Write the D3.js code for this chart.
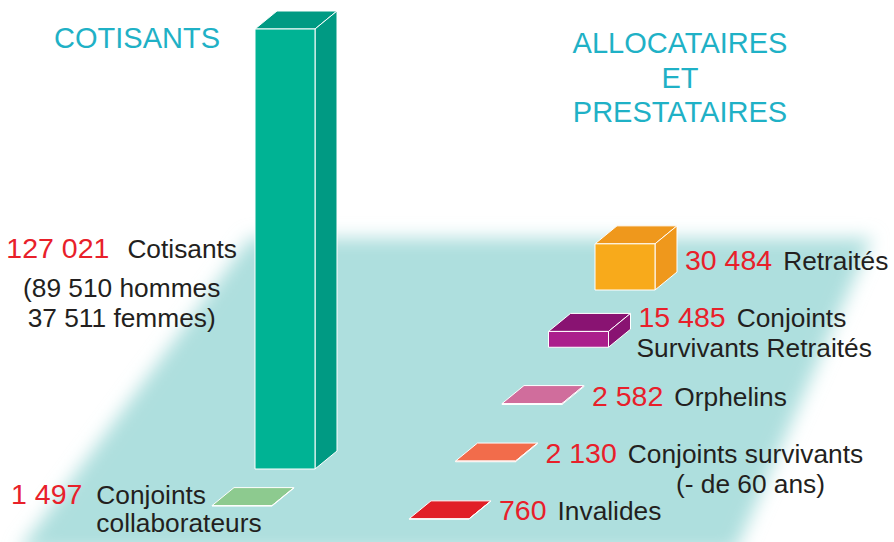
<!DOCTYPE html>
<html>
<head>
<meta charset="utf-8">
<script src="https://cdn.jsdelivr.net/npm/d3@7"></script>
<style>
  body { margin: 0; background: #fff; }
  svg { display: block; font-family: 'Liberation Sans', Arial, sans-serif; }
</style>
</head>
<body>
<script>
// cotisants side
const leftCategories = ['Cotisants', 'Conjoints collaborateurs'];
const leftValues = [127021, 1497];
const leftLabels = [['Cotisants'], ['Conjoints', 'collaborateurs']];
const cotisantsSplit = [89510, 37511]; // hommes, femmes

// allocataires et prestataires side
const rightCategories = ['Retraités', 'Conjoints Survivants Retraités', 'Orphelins', 'Conjoints survivants', 'Invalides'];
const rightValues = [30484, 15485, 2582, 2130, 760];
const rightLabels = [
  ['Retraités'],
  ['Conjoints', 'Survivants Retraités'],
  ['Orphelins'],
  ['Conjoints survivants', '(- de 60 ans)'],
  ['Invalides'],
];

const leftColors = [['#00b394', '#009a83'], ['#8dca8f', '#7bbb7e']];
const rightColors = [
  ['#f8aa1b', '#ef981c'],
  ['#ab1f8c', '#891372'],
  ['#d06d9c', '#c25c8c'],
  ['#f26c4b', '#e45a3a'],
  ['#e11f27', '#c8161d'],
];

const width = 894;
const height = 542;
const boxW = 60;
const depthX = 22;
const depthY = -18;
const red = '#e8202a';
const ink = '#231f20';
const titleColor = '#1fb1c6';
const numSize = 28.5;
const nameSize = 26.3;

const fr = d3.formatLocale({ decimal: ',', thousands: ' ', grouping: [3], currency: ['', ''] });
const fmt = fr.format(',');

const svg = d3.select('body').append('svg')
  .attr('width', width)
  .attr('height', height);

svg.append('defs').append('filter')
  .attr('id', 'soft')
  .attr('x', '-20%').attr('y', '-20%')
  .attr('width', '140%').attr('height', '140%')
  .append('feGaussianBlur')
  .attr('stdDeviation', 9);

// floor
svg.append('polygon')
  .attr('points', [[250, 238], [872, 238], [735, 552], [18, 552]].join(' '))
  .attr('fill', '#aedfde')
  .attr('filter', 'url(#soft)');

// titles
svg.append('text')
  .attr('x', 137).attr('y', 48)
  .attr('text-anchor', 'middle')
  .attr('font-size', 29)
  .attr('fill', titleColor)
  .text('COTISANTS');

svg.append('text')
  .attr('text-anchor', 'middle')
  .attr('font-size', 29)
  .attr('fill', titleColor)
  .selectAll('tspan')
  .data(['ALLOCATAIRES', 'ET', 'PRESTATAIRES'])
  .enter()
  .append('tspan')
  .attr('x', 680)
  .attr('y', (d, i) => 53 + i * 34.5)
  .text(d => d);

const heightScale = d3.scalePow().exponent(1.58)
  .domain([0, d3.max(leftValues)])
  .range([0, 440]);

const leftX = d3.scalePoint().domain(leftCategories).range([255, 212]);
const leftY = d3.scalePoint().domain(leftCategories).range([469, 506]);
const rightX = d3.scalePoint().domain(rightCategories).range([595, 409]);
const rightY = d3.scalePoint().domain(rightCategories).range([290, 519]);

function drawBox(g, x, base, h, colors) {
  const top = base - h;
  const faces = [
    { pts: [[x, top], [x + depthX, top + depthY], [x + boxW + depthX, top + depthY], [x + boxW, top]], fill: colors[1] },
    { pts: [[x + boxW, top], [x + boxW + depthX, top + depthY], [x + boxW + depthX, base + depthY], [x + boxW, base]], fill: colors[1] },
    { pts: [[x, top], [x + boxW, top], [x + boxW, base], [x, base]], fill: colors[0] },
  ];
  if (h < 2) faces[0].fill = colors[0];

  g.selectAll('polygon')
    .data(faces)
    .enter()
    .append('polygon')
    .attr('points', d => d.pts.join(' '))
    .attr('fill', d => d.fill)
    .attr('stroke', '#fff')
    .attr('stroke-width', 1)
    .attr('stroke-linejoin', 'round');
}

// left group
leftCategories.forEach((cat, i) => {
  const x = leftX(cat);
  const base = leftY(cat);
  const h = heightScale(leftValues[i]);
  drawBox(svg.append('g'), x, base, h, leftColors[i]);

  const tall = h > 5;
  const endX = x - (tall ? 18 : 6);
  const baseline = tall ? base - h / 2 + 9 : base - 2;

  const label = svg.append('text')
    .attr('x', endX)
    .attr('y', baseline)
    .attr('text-anchor', 'end');
  label.append('tspan')
    .attr('font-size', numSize)
    .attr('fill', red)
    .text(fmt(leftValues[i]));
  const name = label.append('tspan')
    .attr('dx', tall ? 18 : 14)
    .attr('font-size', nameSize)
    .attr('fill', ink)
    .text(leftLabels[i][0]);

  if (tall) {
    const full = label.node().getBBox();
    const cx = full.x + full.width / 2;
    svg.append('text')
      .attr('text-anchor', 'middle')
      .attr('font-size', nameSize)
      .attr('fill', ink)
      .selectAll('tspan')
      .data(['(' + fmt(cotisantsSplit[0]) + ' hommes', fmt(cotisantsSplit[1]) + ' femmes)'])
      .enter()
      .append('tspan')
      .attr('x', cx)
      .attr('y', (d, k) => baseline + 39 + k * 30)
      .text(d => d);
  } else if (leftLabels[i][1]) {
    const sx = name.node().getStartPositionOfChar(0).x;
    svg.append('text')
      .attr('x', sx)
      .attr('y', baseline + 28)
      .attr('font-size', nameSize)
      .attr('fill', ink)
      .text(leftLabels[i][1]);
  }
});

// right group
rightCategories.forEach((cat, i) => {
  const x = rightX(cat);
  const base = rightY(cat);
  const h = heightScale(rightValues[i]);
  drawBox(svg.append('g'), x, base, h, rightColors[i]);

  const startX = x + 90;
  const baseline = base + (h > 5 ? -20 : 1);

  const label = svg.append('text')
    .attr('x', startX)
    .attr('y', baseline);
  label.append('tspan')
    .attr('font-size', numSize)
    .attr('fill', red)
    .text(fmt(rightValues[i]));
  const name = label.append('tspan')
    .attr('dx', 11)
    .attr('font-size', nameSize)
    .attr('fill', ink)
    .text(rightLabels[i][0]);

  if (rightLabels[i][1]) {
    const sub = svg.append('text')
      .attr('y', baseline + 30)
      .attr('font-size', nameSize)
      .attr('fill', ink)
      .text(rightLabels[i][1]);
    if (rightLabels[i][1].startsWith('(')) {
      const nx = name.node().getStartPositionOfChar(0).x;
      const nw = name.node().getComputedTextLength();
      sub.attr('x', nx + nw / 2 + 5).attr('text-anchor', 'middle');
    } else {
      sub.attr('x', startX - 2);
    }
  }
});
</script>
</body>
</html>
